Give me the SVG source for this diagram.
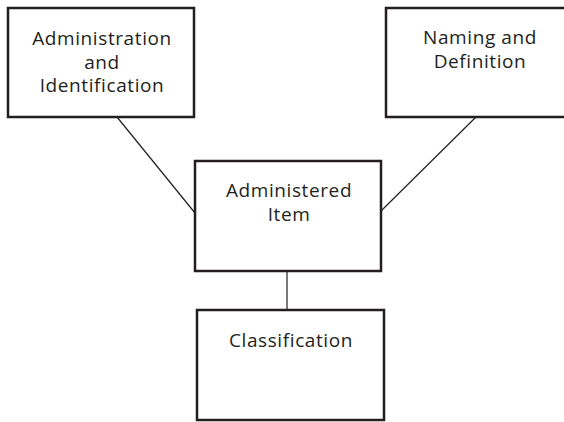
<svg xmlns="http://www.w3.org/2000/svg" width="564" height="422" viewBox="0 0 564 422">
<style>
.box{fill:#fff;stroke:#231f20;stroke-width:2.5}
.t{font-family:"Open Sans","Noto Sans",sans-serif;font-size:19px;letter-spacing:0.6px;fill:#231f20;text-anchor:middle}
.c{stroke:#231f20;stroke-width:1.2;fill:none}
</style>
<rect width="564" height="422" fill="#fff"/>
<g id="connectors">
<line class="c" x1="117" y1="117" x2="195" y2="213"/>
<line class="c" x1="381" y1="211" x2="476" y2="117"/>
<line class="c" x1="287" y1="271" x2="287" y2="310"/>
</g>
<g id="admin-ident">
<rect class="box" x="8" y="8" width="186" height="109"/>
<text class="t" x="102" y="45">Administration</text>
<text class="t" x="102" y="68.5">and</text>
<text class="t" x="102" y="92">Identification</text>
</g>
<g id="naming-def">
<rect class="box" x="386" y="8" width="186" height="109"/>
<text class="t" x="480" y="44">Naming and</text>
<text class="t" x="480" y="68">Definition</text>
</g>
<g id="administered-item">
<rect class="box" x="195" y="161" width="186" height="110"/>
<text class="t" x="289" y="197">Administered</text>
<text class="t" x="289" y="221">Item</text>
</g>
<g id="classification">
<rect class="box" x="197" y="310" width="187" height="110"/>
<text class="t" x="291" y="347">Classification</text>
</g>
</svg>
